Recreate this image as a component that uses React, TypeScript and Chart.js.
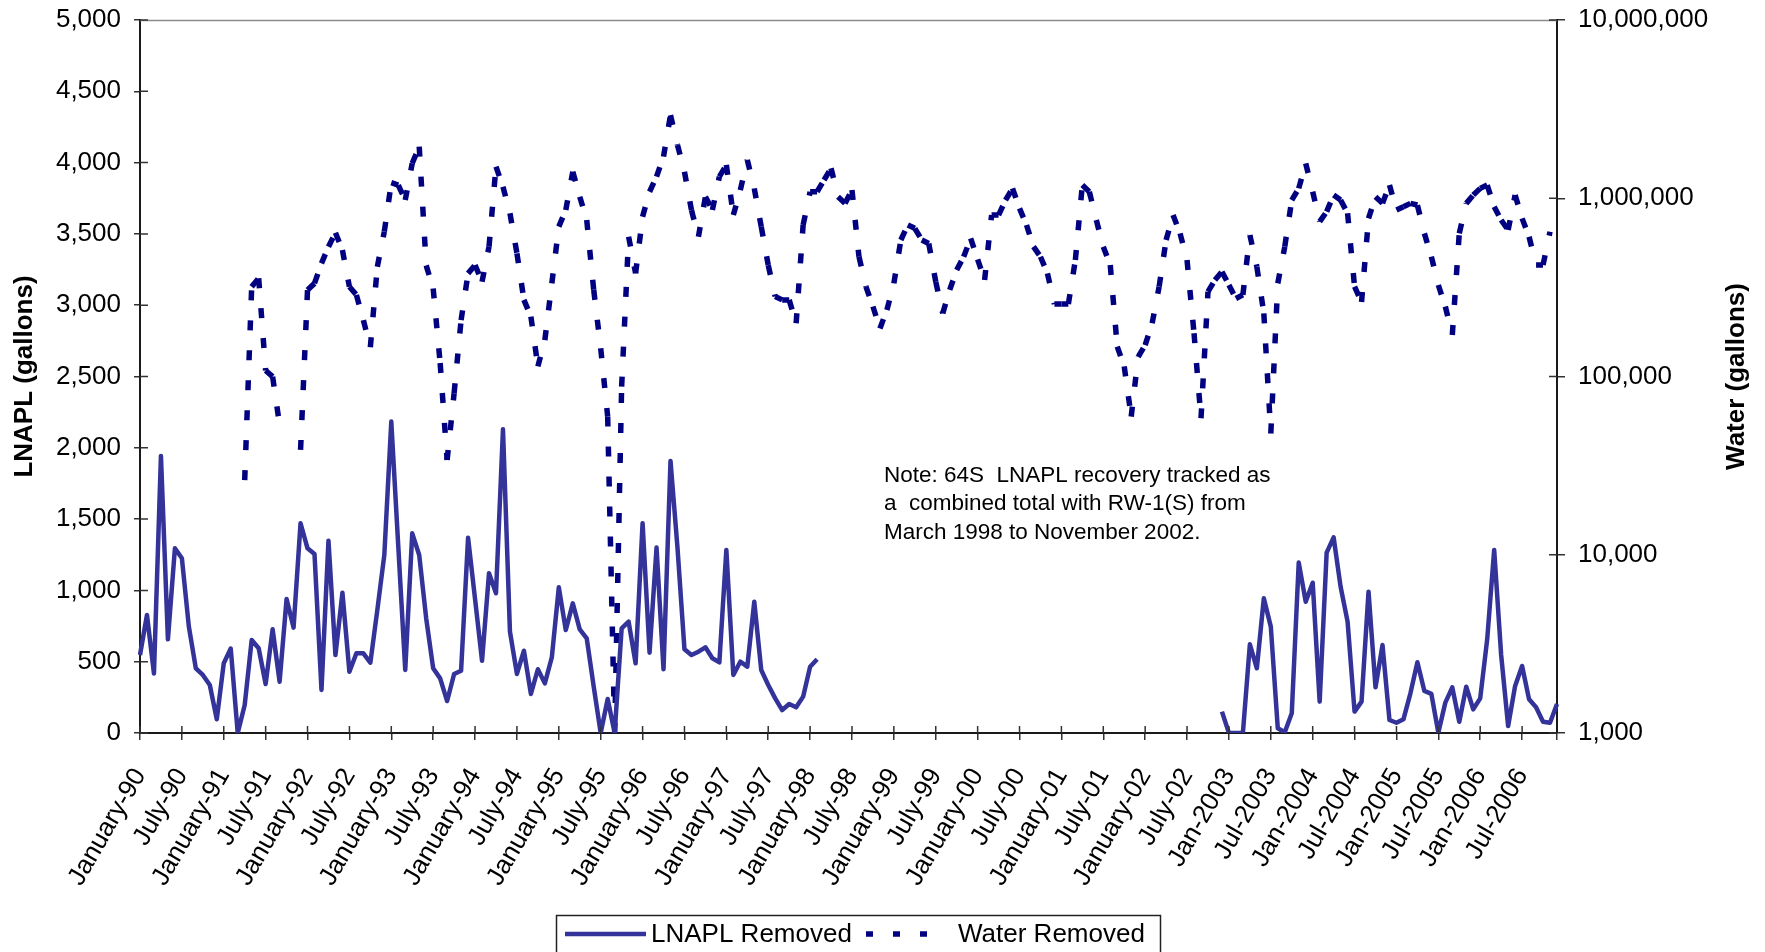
import React, { useEffect, useRef } from 'react';
import { Chart, registerables } from 'chart.js';

Chart.register(...registerables);

// Tick labels shown every 6 months (January 1990 .. July 2006)
const TICK_LABELS: string[] = [
  'January-90', 'July-90', 'January-91', 'July-91', 'January-92', 'July-92',
  'January-93', 'July-93', 'January-94', 'July-94', 'January-95', 'July-95',
  'January-96', 'July-96', 'January-97', 'July-97', 'January-98', 'July-98',
  'January-99', 'July-99', 'January-00', 'July-00', 'January-01', 'July-01',
  'January-02', 'July-02', 'Jan-2003', 'Jul-2003', 'Jan-2004', 'Jul-2004',
  'Jan-2005', 'Jul-2005', 'Jan-2006', 'Jul-2006',
];

// Monthly LNAPL removed (gallons), January 1990 .. December 2006
const LNAPL: (number | null)[] = [
  547, 828, 418, 1943, 657, 1295, 1225, 746, 454, 407,
  337, 96, 489, 592, 0, 196, 652, 594, 344, 727,
  360, 940, 739, 1471, 1295, 1255, 302, 1349, 547, 984,
  430, 559, 559, 493, 863, 1248, 2184, 1310, 442, 1400,
  1248, 804, 454, 383, 224, 414, 437, 1370, 940, 507,
  1120, 980, 2130, 711, 414, 577, 274, 447, 348, 531,
  1022, 722, 909, 727, 664, 325, 0, 238, 0, 734,
  781, 489, 1471, 563, 1300, 447, 1908, 1300, 587, 547,
  570, 601, 524, 496, 1284, 407, 500, 465, 921, 442,
  337, 243, 161, 203, 180, 255, 465, 517,
  null, null, null, null, null, null, null, null, null, null,
  null, null, null, null, null, null, null, null, null, null,
  null, null, null, null, null, null, null, null, null, null,
  null, null, null, null, null, null, null, null, null, null,
  null, null, null, null, null, null, null, null, null, null,
  null, null, null, null, null, null, null,
  150, 0, 0, 0, 622,
  454, 945, 746, 33, 5, 138, 1195, 921, 1054, 220,
  1265, 1372, 1026, 781, 150, 220, 991, 320, 617, 91,
  72, 96, 278, 496, 295, 274, 2, 213, 320, 79,
  325, 166, 243, 657, 1284, 547, 49, 330, 470, 236,
  180, 79, 72, 203,
];

// Monthly water removed (gallons), January 1990 .. December 2006
const WATER: (number | null)[] = [
  null, null, null, null, null, null, null, null, null, null,
  null, null, null, null, null,
  26200, 319000, 356000, 108000, 99800, 53500,
  null, null,
  38700, 306000, 333000, 431000, 535000, 641000, 512000,
  319000, 287000, 207000, 146000, 413000, 649000, 1223000, 1186000, 977000, 1571000,
  1946000, 420000, 312000, 119000, 34000, 80500, 207000, 379000, 422000, 340000,
  535000, 1505000, 1161000, 823000, 491000, 269000, 217000, 114000, 160000, 333000,
  693000, 859000, 1410000, 1020000, 755000, 306000, 144000, 59600, 1000, 87700,
  608000, 379000, 788000, 1088000, 1322000, 1712000, 2930000, 1990000, 1410000, 859000,
  608000, 1020000, 859000, 1322000, 1538000, 805000, 1112000, 1640000, 1136000, 693000,
  422000, 281000, 269000, 269000, 199000, 708000, 1088000, 1088000, 1266000, 1473000,
  1020000, 936000, 1112000, 470000, 319000, 247000, 186000, 236000, 333000, 583000,
  708000, 678000, 583000, 558000, 340000, 226000, 306000, 396000, 470000, 595000,
  454000, 348000, 805000, 805000, 977000, 1136000, 877000, 708000, 535000, 470000,
  379000, 255000, 255000, 255000, 450000, 1186000, 1088000, 755000, 535000, 422000,
  147000, 114000, 59600, 129000, 150000, 199000, 319000, 583000, 805000, 635000,
  450000, 175000, 58300, 299000, 348000, 387000, 326000, 274000, 287000, 622000,
  413000, 226000, 48000, 333000, 535000, 977000, 1136000, 1571000, 1088000, 739000,
  841000, 1042000, 977000, 823000, 319000, 262000, 771000, 1020000, 936000, 1186000,
  859000, 897000, 936000, 916000, 635000, 470000, 326000, 247000, 171000, 635000,
  936000, 1042000, 1136000, 1186000, 897000, 755000, 663000, 1042000, 771000, 608000,
  422000, 422000, 649000, null,
];

const LEFT_TICKS: number[] = [0, 500, 1000, 1500, 2000, 2500, 3000, 3500, 4000, 4500, 5000];
const RIGHT_TICKS: number[] = [1000, 10000, 100000, 1000000, 10000000];

const SERIES_NAMES = ['LNAPL Removed', 'Water Removed'];
const AXIS_TITLES = ['LNAPL (gallons)', 'Water (gallons)'];
const NOTE_LINES = [
  'Note: 64S  LNAPL recovery tracked as',
  'a  combined total with RW-1(S) from',
  'March 1998 to November 2002.',
];

const FONT = '"Liberation Sans", Arial, Helvetica, sans-serif';
const LNAPL_COLOR = '#333399';
const WATER_COLOR = '#000080';
const AXIS_COLOR = '#1a1a1a';
const MONTHS = LNAPL.length;

const fmt = (v: number) => Number(v).toLocaleString('en-US');

const decorPlugin = {
  id: 'decor',
  beforeDraw(chart: any) {
    const { ctx } = chart;
    ctx.save();
    ctx.fillStyle = '#ffffff';
    ctx.fillRect(0, 0, chart.width, chart.height);
    ctx.restore();
  },
  afterDraw(chart: any) {
    const { ctx, chartArea } = chart;
    const { left, right, top, bottom } = chartArea;
    const xs = chart.scales.x;
    const ys = chart.scales.y;
    const y1 = chart.scales.y1;
    ctx.save();
    // top frame line
    ctx.strokeStyle = '#8a8a8a';
    ctx.lineWidth = 1.5;
    ctx.beginPath();
    ctx.moveTo(left, top + 0.5);
    ctx.lineTo(right, top + 0.5);
    ctx.stroke();

    // inner tick stubs (cross ticks)
    ctx.strokeStyle = '#333';
    ctx.lineWidth = 1.5;
    ctx.beginPath();
    for (const v of LEFT_TICKS) {
      const p = ys.getPixelForValue(v);
      ctx.moveTo(left, p);
      ctx.lineTo(left + 8, p);
    }
    for (const v of RIGHT_TICKS) {
      const p = y1.getPixelForValue(v);
      ctx.moveTo(right, p);
      ctx.lineTo(right - 8, p);
    }
    for (let i = 0; i < MONTHS; i += 6) {
      const p = xs.getPixelForValue(i);
      ctx.moveTo(p, bottom);
      ctx.lineTo(p, bottom - 7);
    }
    ctx.stroke();

    // axis titles
    ctx.fillStyle = '#000';
    ctx.font = `bold 26px ${FONT}`;
    ctx.textAlign = 'center';
    ctx.textBaseline = 'middle';
    const midY = (top + bottom) / 2;
    ctx.save();
    ctx.translate(25, midY);
    ctx.rotate(-Math.PI / 2);
    ctx.fillText(AXIS_TITLES[0], 0, 0);
    ctx.restore();
    ctx.save();
    ctx.translate(1737, midY);
    ctx.rotate(-Math.PI / 2);
    ctx.fillText(AXIS_TITLES[1], 0, 0);
    ctx.restore();

    // note
    ctx.font = `22.5px ${FONT}`;
    ctx.textAlign = 'left';
    ctx.textBaseline = 'alphabetic';
    NOTE_LINES.forEach((line, i) => {
      ctx.fillText(line, 884, 482 + i * 28.3);
    });

    // legend
    const lx = 556, ly = 915, lw = 604, lh = 60;
    ctx.strokeStyle = '#222';
    ctx.lineWidth = 1.5;
    ctx.strokeRect(lx + 0.5, ly + 0.5, lw, lh);
    const cy = 934;
    ctx.lineCap = 'butt';
    ctx.strokeStyle = LNAPL_COLOR;
    ctx.lineWidth = 4.5;
    ctx.setLineDash([]);
    ctx.beginPath();
    ctx.moveTo(565, cy);
    ctx.lineTo(646, cy);
    ctx.stroke();
    ctx.strokeStyle = WATER_COLOR;
    ctx.lineWidth = 5.5;
    ctx.setLineDash([7, 20]);
    ctx.beginPath();
    ctx.moveTo(866, cy);
    ctx.lineTo(946, cy);
    ctx.stroke();
    ctx.setLineDash([]);
    ctx.fillStyle = '#000';
    ctx.font = `26px ${FONT}`;
    ctx.textBaseline = 'middle';
    ctx.fillText(SERIES_NAMES[0], 651, cy + 1);
    ctx.fillText(SERIES_NAMES[1], 958, cy + 1);
    ctx.restore();
  },
};

export default function App() {
  const ref = useRef<HTMLCanvasElement | null>(null);
  useEffect(() => {
    if (!ref.current) return;
    const labels = LNAPL.map((_, i) => `${1990 + Math.floor(i / 12)}-${(i % 12) + 1}`);
    const chart = new Chart(ref.current, {
      type: 'line',
      data: {
        labels,
        datasets: [
          {
            label: SERIES_NAMES[0],
            data: LNAPL,
            yAxisID: 'y',
            borderColor: LNAPL_COLOR,
            backgroundColor: LNAPL_COLOR,
            borderWidth: 4.5,
            borderJoinStyle: 'round',
            pointRadius: 0,
            pointHoverRadius: 0,
            tension: 0,
            spanGaps: false,
          },
          {
            label: SERIES_NAMES[1],
            data: WATER,
            yAxisID: 'y1',
            borderColor: WATER_COLOR,
            backgroundColor: WATER_COLOR,
            borderWidth: 5.5,
            borderDash: [10, 20],
            borderCapStyle: 'butt',
            pointRadius: 0,
            pointHoverRadius: 0,
            tension: 0,
            spanGaps: false,
            segment: {
              borderDashOffset: (c: any) => (c.p0DataIndex % 2) * 0.001,
            },
          },
        ],
      },
      options: {
        animation: false,
        responsive: false,
        maintainAspectRatio: false,
        layout: { padding: { top: 20, left: 0, right: 0, bottom: 0 } },
        plugins: {
          legend: { display: false },
          tooltip: { enabled: false },
          title: { display: false },
        },
        scales: {
          x: {
            type: 'category',
            offset: false,
            border: { display: true, color: AXIS_COLOR, width: 2 },
            grid: {
              drawOnChartArea: false,
              drawTicks: true,
              tickLength: 7,
              lineWidth: 1.5,
              color: 'rgba(0,0,0,0)',
              tickColor: (c: any) =>
                c.index % 6 === 0 || c.index === MONTHS - 1 ? '#333' : 'rgba(0,0,0,0)',
            },
            ticks: {
              autoSkip: false,
              minRotation: 60,
              maxRotation: 60,
              padding: 23,
              color: '#000',
              font: { family: FONT, size: 26 },
              callback: (_v: any, i: number) => (i % 6 === 0 ? TICK_LABELS[i / 6] : ''),
            },
            afterFit: (s: any) => {
              s.height = 219;
            },
          },
          y: {
            type: 'linear',
            position: 'left',
            min: 0,
            max: 5000,
            border: { display: true, color: AXIS_COLOR, width: 2 },
            grid: { drawOnChartArea: false, tickLength: 6, lineWidth: 1.5, color: '#333' },
            afterBuildTicks: (s: any) => {
              s.ticks = LEFT_TICKS.map((v) => ({ value: v }));
            },
            ticks: {
              padding: 13,
              color: '#000',
              font: { family: FONT, size: 26 },
              callback: (v: any) => fmt(v),
            },
            afterFit: (s: any) => {
              s.width = 140;
              s.paddingTop = 0;
              s.paddingBottom = 0;
            },
          },
          y1: {
            type: 'logarithmic',
            position: 'right',
            min: 1000,
            max: 10000000,
            border: { display: true, color: AXIS_COLOR, width: 2 },
            grid: { drawOnChartArea: false, tickLength: 8, lineWidth: 1.5, color: '#333' },
            afterBuildTicks: (s: any) => {
              s.ticks = RIGHT_TICKS.map((v) => ({ value: v }));
            },
            ticks: {
              padding: 13,
              color: '#000',
              font: { family: FONT, size: 26 },
              callback: (v: any) => fmt(v),
            },
            afterFit: (s: any) => {
              s.width = 208;
              s.paddingTop = 0;
              s.paddingBottom = 0;
            },
          },
        },
      } as any,
      plugins: [decorPlugin],
    });
    return () => chart.destroy();
  }, []);

  return (
    <div style={{ position: 'fixed', left: 0, top: 0, width: 1765, height: 952, background: '#fff' }}>
      <canvas ref={ref} width={1765} height={952} style={{ display: 'block', width: 1765, height: 952 }} />
    </div>
  );
}
